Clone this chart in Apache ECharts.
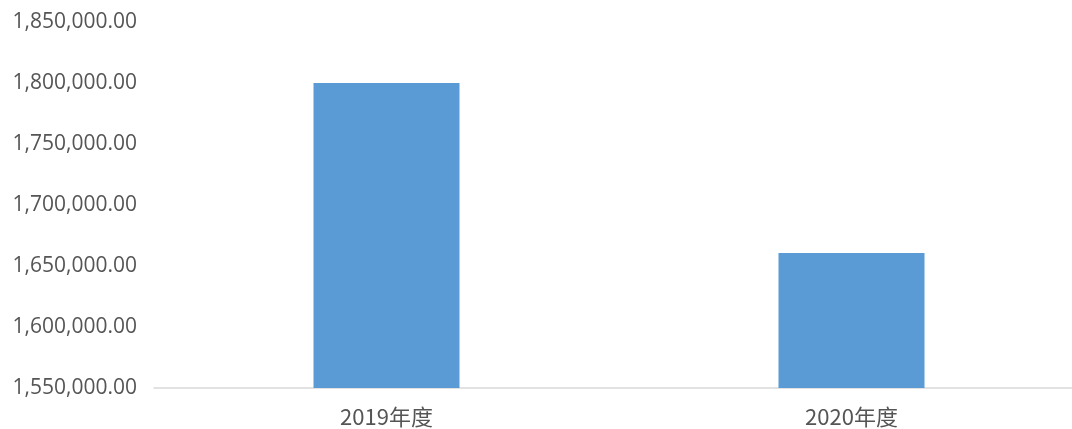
<!DOCTYPE html>
<html>
<head>
<meta charset="utf-8">
<script src="https://cdn.jsdelivr.net/npm/echarts@6/dist/echarts.min.js"></script>
<style>
  html, body { margin: 0; padding: 0; background: #fff; }
  #chart { width: 1072px; height: 429px; }
</style>
</head>
<body>
<div id="chart"></div>
<script>
// values
const categories = ['2019年度', '2020年度'];
const values = [1800000, 1660600];
const yMin = 1550000;
const yMax = 1850000;
const yStep = 50000;

const fmt = v => v.toLocaleString('en-US', { minimumFractionDigits: 2, maximumFractionDigits: 2 });

const chart = echarts.init(document.getElementById('chart'));
chart.setOption({
  backgroundColor: '#fff',
  animation: false,
  grid: { left: 154, top: 22, bottom: 41, width: 930, outerBoundsMode: 'none' },
  xAxis: {
    type: 'category',
    data: categories,
    axisTick: { show: false },
    axisLine: { lineStyle: { color: '#D9D9D9', width: 1.5 } },
    axisLabel: {
      color: '#555',
      fontSize: 22,
      fontFamily: '"Noto Sans CJK SC", "Open Sans", sans-serif',
      margin: 18
    }
  },
  yAxis: {
    type: 'value',
    min: yMin,
    max: yMax,
    interval: yStep,
    splitLine: { show: false },
    axisLine: { show: false },
    axisTick: { show: false },
    axisLabel: {
      color: '#555',
      fontSize: 21,
      fontFamily: '"Open Sans", "Noto Sans", sans-serif',
      margin: 17,
      formatter: fmt
    }
  },
  series: [{
    type: 'bar',
    data: values,
    barWidth: 146,
    itemStyle: { color: '#5B9BD5' }
  }]
});
</script>
</body>
</html>
